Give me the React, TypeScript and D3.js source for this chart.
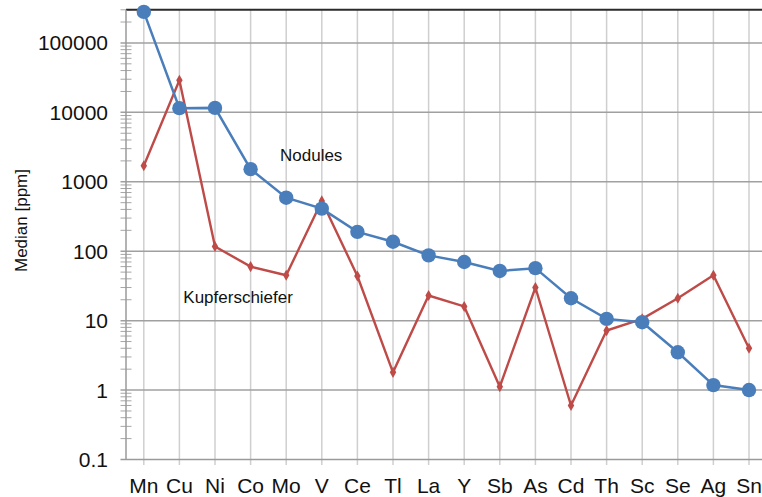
import React from "react";
import * as d3 from "d3";

// Elements in plotting order
const elements = ["Mn", "Cu", "Ni", "Co", "Mo", "V", "Ce", "Tl", "La", "Y", "Sb", "As", "Cd", "Th", "Sc", "Se", "Ag", "Sn"];

// Median concentrations in ppm
const nodules = [280000, 11500, 11600, 1520, 590, 410, 190, 137, 87, 70, 52, 57, 21, 10.6, 9.5, 3.5, 1.18, 1.0];
const kupferschiefer = [1700, 29000, 117, 60, 45, 530, 44, 1.8, 23, 16, 1.12, 30, 0.6, 7.2, 10.6, 21, 45, 4.0];

const yTicks = [0.1, 1, 10, 100, 1000, 10000, 100000];
const yTickLabels = ["0.1", "1", "10", "100", "1000", "10000", "100000"];

const W = 762;
const H = 497;
const FONT = "'Liberation Sans', Arial, sans-serif";
const BLUE = "#4a7ebb";
const RED = "#be4b48";

export default function App() {
  const x = d3.scaleBand<string>().domain(elements).range([126, 766.8]).padding(0);
  const cx = (e: string) => (x(e) as number) + x.bandwidth() / 2;
  const y = d3.scaleLog().domain([0.1, 300000]).range([459.5, 9.8]);

  // minor ticks: 2..9 times each decade
  const minor: number[] = [];
  for (let p = -1; p <= 5; p++) {
    for (let m = 2; m <= 9; m++) {
      const v = m * Math.pow(10, p);
      if (v <= 300000) minor.push(v);
    }
  }

  const line = d3
    .line<number>()
    .x((_, i) => cx(elements[i]))
    .y((d) => y(d));

  const diamond = d3.symbol().type(d3.symbolDiamond).size(36)() as string;

  return (
    <div style={{ position: "absolute", left: 0, top: 0 }}>
      <svg width={W} height={H} style={{ display: "block", background: "#fff" }}>
        {/* vertical category gridlines and ticks */}
        {elements.map((e) => (
          <line key={"v" + e} x1={cx(e)} x2={cx(e)} y1={y(300000)} y2={465} stroke="#cfcfcf" strokeWidth={1.5} />
        ))}
        {/* minor y ticks */}
        {minor.map((v, i) => (
          <line key={"m" + i} x1={120.5} x2={131.5} y1={y(v)} y2={y(v)} stroke="#a6a6a6" strokeWidth={1} />
        ))}
        {/* major horizontal gridlines */}
        {yTicks.slice(1).map((v) => (
          <line key={"g" + v} x1={120.5} x2={W} y1={y(v)} y2={y(v)} stroke="#a0a0a0" strokeWidth={1.5} />
        ))}
        {/* top border */}
        <line x1={126} x2={W} y1={y(300000)} y2={y(300000)} stroke="#2b2b2b" strokeWidth={2} />
        {/* axes */}
        <line x1={120.5} x2={W} y1={y(0.1)} y2={y(0.1)} stroke="#9a9a9a" strokeWidth={1.5} />
        <line x1={126} x2={126} y1={y(300000)} y2={y(0.1)} stroke="#9a9a9a" strokeWidth={1.5} />

        {/* y tick labels */}
        {yTicks.map((v, i) => (
          <text key={"yl" + v} x={108} y={y(v)} dy="0.36em" textAnchor="end" fontFamily={FONT} fontSize={21} fill="#111">
            {yTickLabels[i]}
          </text>
        ))}
        {/* x labels */}
        {elements.map((e) => (
          <text key={"xl" + e} x={cx(e)} y={492.5} textAnchor="middle" fontFamily={FONT} fontSize={21} fill="#111">
            {e}
          </text>
        ))}
        <text transform="translate(26.5,220.5) rotate(-90)" textAnchor="middle" fontFamily={FONT} fontSize={17} fill="#111">
          Median [ppm]
        </text>

        {/* Kupferschiefer series */}
        <path d={line(kupferschiefer) as string} fill="none" stroke={RED} strokeWidth={2.4} />
        {kupferschiefer.map((v, i) => (
          <path key={"k" + i} d={diamond} transform={`translate(${cx(elements[i])},${y(v)})`} fill={RED} />
        ))}

        {/* Nodules series */}
        <path d={line(nodules) as string} fill="none" stroke={BLUE} strokeWidth={2.5} />
        {nodules.map((v, i) => (
          <circle key={"n" + i} cx={cx(elements[i])} cy={y(v)} r={7.2} fill={BLUE} />
        ))}

        {/* series labels */}
        <text x={280} y={161} fontFamily={FONT} fontSize={17} fill="#111">Nodules</text>
        <text x={183.3} y={303.3} fontFamily={FONT} fontSize={17} fill="#111">Kupferschiefer</text>
      </svg>
    </div>
  );
}
